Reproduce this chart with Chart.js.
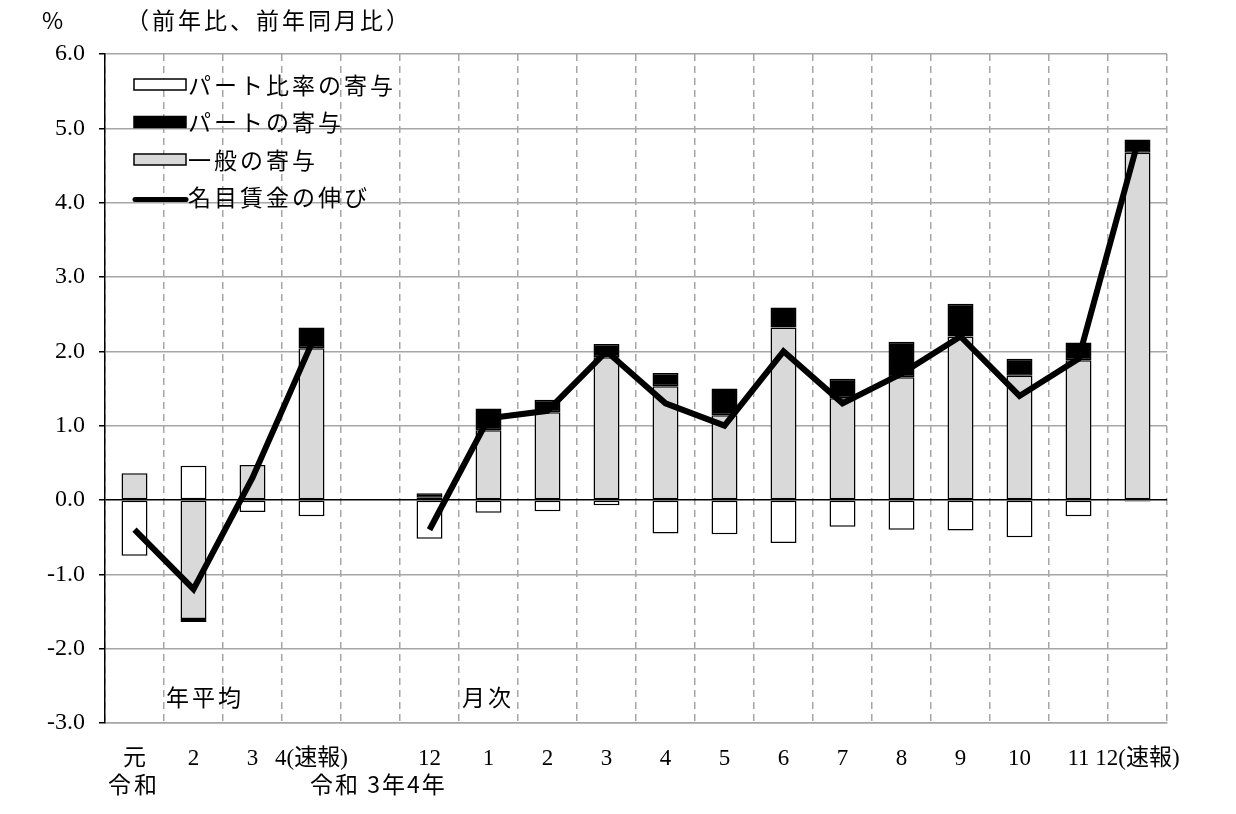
<!DOCTYPE html>
<html>
<head>
<meta charset="utf-8">
<script src="https://cdn.jsdelivr.net/npm/chart.js@4/dist/chart.umd.min.js"></script>
<style>
  body { margin: 0; background: #fff; }
  #wrap { width: 1236px; height: 814px; }
</style>
</head>
<body>
<div id="wrap"><canvas id="chart" width="1236" height="814"></canvas></div>
<script>
// categories (年平均 4つ, 空き1つ, 月次 13か月)
const labels = ['元', '2', '3', '4(速報)', '', '12', '1', '2', '3', '4', '5', '6', '7', '8', '9', '10', '11', '12(速報)']

// パート比率の寄与
const partRatio = [-0.75, 0.46, -0.16, -0.22, null, -0.52, -0.17, -0.15, -0.07, -0.45, -0.46, -0.58, -0.36, -0.40, -0.41, -0.50, -0.22, -0.02]
// パートの寄与
const partContrib = [0.0, -0.04, 0.0, 0.28, null, 0.06, 0.29, 0.17, 0.18, 0.18, 0.36, 0.27, 0.26, 0.48, 0.44, 0.23, 0.24, 0.18]
// 一般の寄与
const generalContrib = [0.36, -1.60, 0.47, 2.04, null, 0.03, 0.94, 1.18, 1.92, 1.53, 1.14, 2.32, 1.37, 1.65, 2.20, 1.67, 1.88, 4.67]
// 名目賃金の伸び
const nominalWage = [-0.4, -1.2, 0.3, 2.1, null, -0.4, 1.1, 1.2, 2.0, 1.3, 1.0, 2.0, 1.3, 1.7, 2.2, 1.4, 1.9, 4.8]

const FONT = "'Liberation Serif', 'Noto Sans CJK JP', serif"
const JFONT = "'Noto Sans CJK JP', 'Liberation Serif', serif"

// legend + notes drawn inside the canvas
const notesPlugin = {
  id: 'notes',
  afterDraw(chart) {
    const ctx = chart.ctx
    ctx.save()
    ctx.fillStyle = '#000'
    ctx.textBaseline = 'middle'
    ctx.font = '23px ' + JFONT
    ctx.letterSpacing = '3px'

    // legend
    const items = [
      { text: 'パート比率の寄与', kind: 'box', fill: '#ffffff' },
      { text: 'パートの寄与', kind: 'box', fill: '#000000' },
      { text: '一般の寄与', kind: 'box', fill: '#d9d9d9' },
      { text: '名目賃金の伸び', kind: 'line' }
    ]
    items.forEach((it, i) => {
      const y = 85 + i * 37.5
      if (it.kind === 'box') {
        ctx.fillStyle = it.fill
        ctx.fillRect(134, y - 6, 52, 11)
        ctx.strokeStyle = '#000'
        ctx.lineWidth = 1.5
        ctx.strokeRect(134, y - 6, 52, 11)
      } else {
        ctx.strokeStyle = '#000'
        ctx.lineWidth = 5
        ctx.lineCap = 'round'
        ctx.beginPath()
        ctx.moveTo(135, y + 2)
        ctx.lineTo(186, y + 2)
        ctx.stroke()
      }
      ctx.fillStyle = '#000'
      ctx.textAlign = 'left'
      ctx.fillText(it.text, 188, y)
    })

    ctx.font = '23px ' + JFONT
    ctx.textAlign = 'left'
    ctx.fillText('%', 42, 20)
    ctx.fillText('（前年比、前年同月比）', 126, 20)
    ctx.fillText('年平均', 166, 697)
    ctx.fillText('月次', 462, 697)
    ctx.fillText('令和', 108, 784)
    ctx.letterSpacing = '2px'
    ctx.fillText('令和 3年4年', 310, 784)
    ctx.restore()
  }
}

const ctxWage = document.querySelector('#chart')

const myChartWage = new Chart(ctxWage, {
  type: 'bar',

  data: {
    labels: labels,

    datasets: [{
      type: 'line',
      label: '名目賃金の伸び',
      data: nominalWage,
      borderColor: '#000',
      backgroundColor: '#000',
      borderWidth: 6,
      pointRadius: 0,
      tension: 0,
      spanGaps: false,
      stack: 'line',
      order: -1
    },

    {
      label: '一般の寄与',
      data: generalContrib,
      backgroundColor: '#d9d9d9',
      borderColor: '#000',
      borderWidth: 1.5,
      borderSkipped: false,
      stack: 'bars'
    },

    {
      label: 'パートの寄与',
      data: partContrib,
      backgroundColor: '#000',
      borderColor: '#000',
      borderWidth: 1.5,
      borderSkipped: false,
      stack: 'bars'
    },

    {
      label: 'パート比率の寄与',
      data: partRatio,
      backgroundColor: '#fff',
      borderColor: '#000',
      borderWidth: 1.5,
      borderSkipped: false,
      stack: 'bars'
    }]
  },

  options: {
    responsive: false,
    animation: false,
    devicePixelRatio: 1,
    layout: {
      padding: { top: 54, right: 69, left: 0, bottom: 0 }
    },
    datasets: {
      bar: { categoryPercentage: 1, barPercentage: 0.44 }
    },
    plugins: {
      legend: { display: false },
      tooltip: { enabled: false }
    },
    scales: {
      x: {
        stacked: true,
        offset: true,
        afterFit(scale) { scale.height = 91 },
        grid: {
          offset: true,
          color: '#a6a6a6',
          lineWidth: 1.5,
          drawTicks: false
        },
        border: { color: '#a6a6a6', width: 1.5, dash: [7, 5] },
        ticks: {
          color: '#000',
          padding: 22,
          maxRotation: 0,
          autoSkip: false,
          font: { family: FONT, size: 23 }
        }
      },
      y: {
        stacked: true,
        min: -3,
        max: 6,
        afterFit(scale) { scale.width = 105 },
        grid: {
          color: (c) => c.tick && c.tick.value === 0 ? '#000' : '#a6a6a6',
          lineWidth: 1.5,
          tickColor: '#000',
          tickLength: 6
        },
        border: { color: '#000', width: 1.5 },
        ticks: {
          stepSize: 1,
          color: '#000',
          padding: 14,
          font: { family: FONT, size: 24 },
          callback: (v) => v.toFixed(1)
        }
      }
    }
  },

  plugins: [notesPlugin]
})
</script>
</body>
</html>
